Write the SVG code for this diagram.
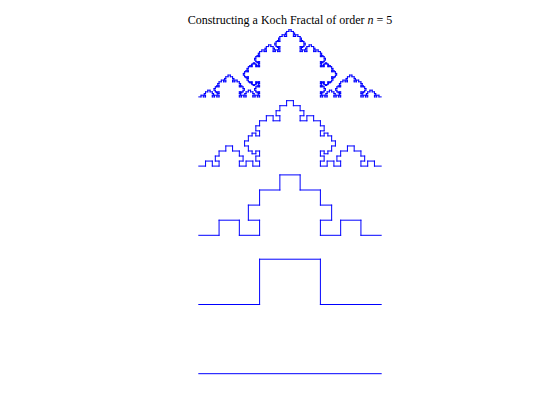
<svg xmlns="http://www.w3.org/2000/svg" width="560" height="420" viewBox="0 0 560 420">
<style>
.seg{stroke:#0000ff;stroke-width:1;stroke-linecap:square;fill:none;vector-effect:non-scaling-stroke}
.title{font-family:"Liberation Serif",serif;font-size:12px;fill:#000}
</style>
<defs>
<line id="k0" class="seg" x1="0" y1="0" x2="1" y2="0"/>
<g id="k1">
<use href="#k0" transform="scale(0.3333333333)"/>
<use href="#k0" transform="translate(0.3333333333,0) rotate(-90) scale(0.2483333333)"/>
<use href="#k0" transform="translate(0.3333333333,-0.2483333333) scale(0.3333333333)"/>
<use href="#k0" transform="translate(0.6666666667,-0.2483333333) rotate(90) scale(0.2483333333)"/>
<use href="#k0" transform="translate(0.6666666667,0) scale(0.3333333333)"/>
</g>
<g id="k2">
<use href="#k1" transform="scale(0.3333333333)"/>
<use href="#k1" transform="translate(0.3333333333,0) rotate(-90) scale(0.2483333333)"/>
<use href="#k1" transform="translate(0.3333333333,-0.2483333333) scale(0.3333333333)"/>
<use href="#k1" transform="translate(0.6666666667,-0.2483333333) rotate(90) scale(0.2483333333)"/>
<use href="#k1" transform="translate(0.6666666667,0) scale(0.3333333333)"/>
</g>
<g id="k3">
<use href="#k2" transform="scale(0.3333333333)"/>
<use href="#k2" transform="translate(0.3333333333,0) rotate(-90) scale(0.2483333333)"/>
<use href="#k2" transform="translate(0.3333333333,-0.2483333333) scale(0.3333333333)"/>
<use href="#k2" transform="translate(0.6666666667,-0.2483333333) rotate(90) scale(0.2483333333)"/>
<use href="#k2" transform="translate(0.6666666667,0) scale(0.3333333333)"/>
</g>
<g id="k4">
<use href="#k3" transform="scale(0.3333333333)"/>
<use href="#k3" transform="translate(0.3333333333,0) rotate(-90) scale(0.2483333333)"/>
<use href="#k3" transform="translate(0.3333333333,-0.2483333333) scale(0.3333333333)"/>
<use href="#k3" transform="translate(0.6666666667,-0.2483333333) rotate(90) scale(0.2483333333)"/>
<use href="#k3" transform="translate(0.6666666667,0) scale(0.3333333333)"/>
</g>
</defs>
<rect width="560" height="420" fill="#fff"/>
<text class="title" x="290" y="24" text-anchor="middle">Constructing a Koch Fractal of order <tspan font-style="italic">n</tspan> = 5</text>
<g id="order0"><use href="#k0" transform="translate(198.8,373.7) scale(182.4)"/></g>
<g id="order1"><use href="#k1" transform="translate(198.8,304.5) scale(182.4)"/></g>
<g id="order2"><use href="#k2" transform="translate(198.8,235.3) scale(182.4)"/></g>
<g id="order3"><use href="#k3" transform="translate(198.8,166.1) scale(182.4)"/></g>
<g id="order4"><use href="#k4" transform="translate(198.8,96.9) scale(182.4)"/></g>
</svg>
